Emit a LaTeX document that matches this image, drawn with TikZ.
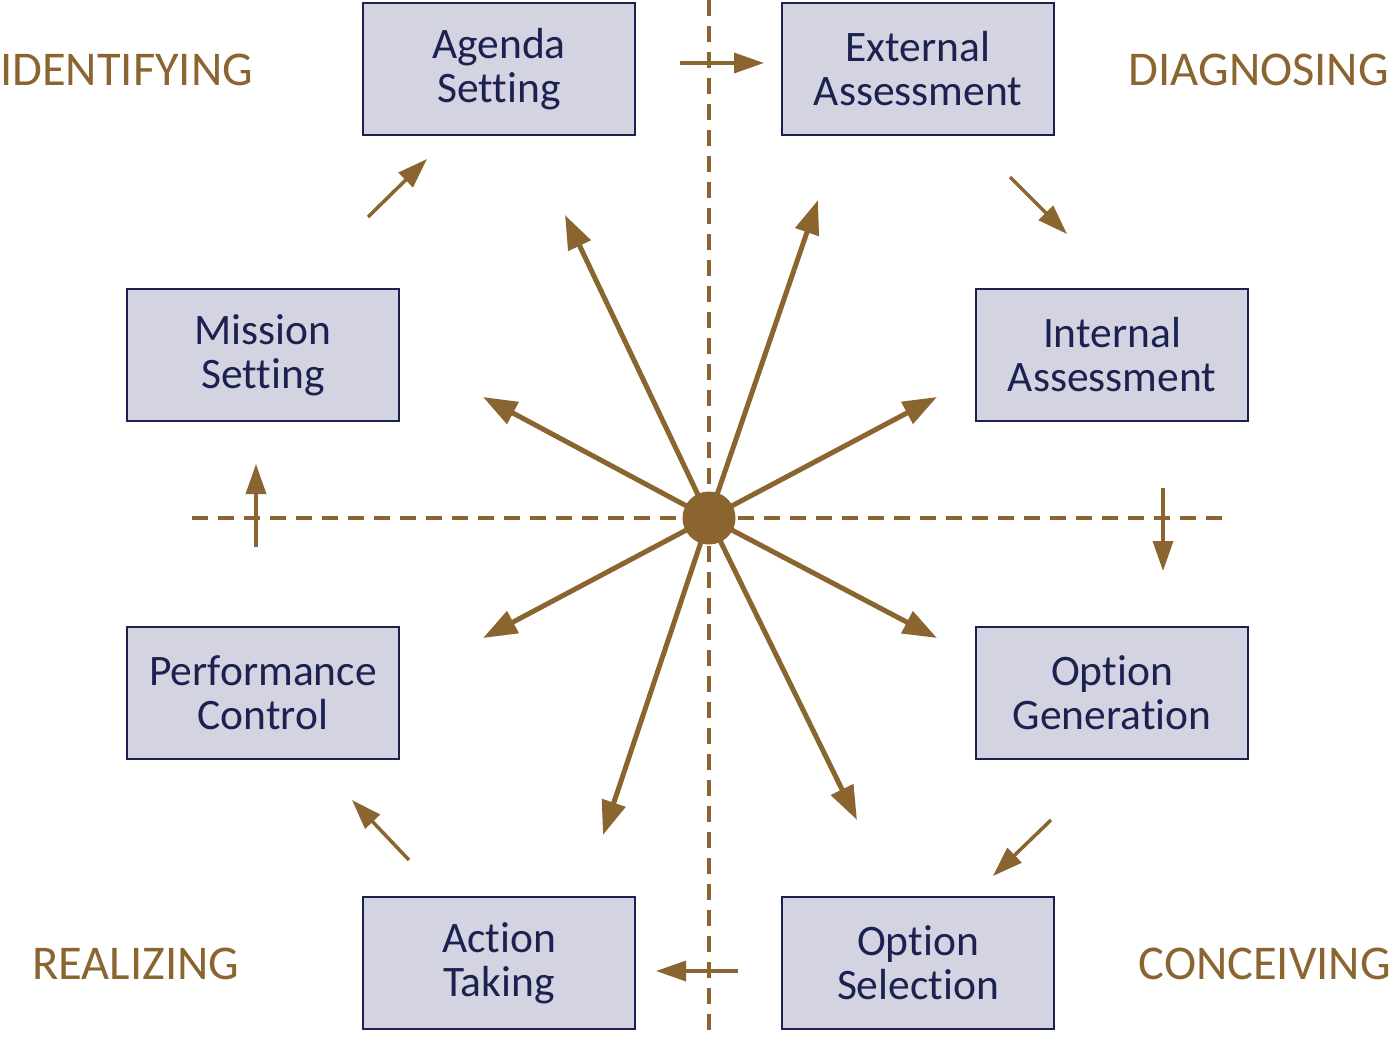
\documentclass[tikz,border=0pt]{standalone}
\usepackage{fontspec}
\setmainfont{Carlito}[Ligatures=NoCommon]
\usetikzlibrary{arrows.meta}

\definecolor{ochre}{RGB}{139,101,48}
\definecolor{navy}{RGB}{27,34,80}
\definecolor{boxfill}{RGB}{211,211,226}

\begin{document}
\begin{tikzpicture}[x=1pt, y=-1pt,
    stage/.style={draw=navy, line width=1.8pt, fill=boxfill, text=navy,
      minimum width=272pt, minimum height=132pt, align=center,
      font=\fontsize{43.5}{44}\selectfont},
    phase/.style={text=ochre, inner sep=0pt, font=\fontsize{48.5}{48}\selectfont},
    axis/.style={ochre, line width=3.5pt, dash pattern=on 16pt off 10pt},
    spoke/.style={ochre, line width=5pt, -{Triangle[length=34pt,width=24pt]}},
    turn/.style={ochre, line width=3.5pt, -{Triangle[length=30pt,width=20pt]}}]
  \useasboundingbox (0,0) rectangle (1393,1037);

  % axes
  \draw[axis] (709,0) -- (709,1037);
  \draw[axis] (192,518) -- (1232,518);

  % stages
  \node[stage] (agenda)   at (499,69)  {Agenda\\Setting};
  \node[stage] (external) at (918,69)  {External\\Assessment};
  \node[stage] (mission)  at (263,355) {Mission\\Setting};
  \node[stage] (internal) at (1112,355) {Internal\\Assessment};
  \node[stage] (perform)  at (263,693) {Performance\\Control};
  \node[stage] (generate) at (1112,693) {Option\\Generation};
  \node[stage] (action)   at (499,963) {Action\\Taking};
  \node[stage] (select)   at (918,963) {Option\\Selection};

  % phases
  \node[phase, anchor=west] (identifying) at (0,70)   {IDENTIFYING};
  \node[phase, anchor=east] (diagnosing)  at (1389,70) {DIAGNOSING};
  \node[phase, anchor=west] (realizing)   at (32,964)  {REALIZING};
  \node[phase, anchor=east] (conceiving)  at (1391,964) {CONCEIVING};

  % hub and spokes
  \node[circle, fill=ochre, minimum size=53pt, inner sep=0pt] (hub) at (709,518) {};
  \coordinate (s1) at (565,215);
  \coordinate (s2) at (818,200);
  \coordinate (s3) at (483,397);
  \coordinate (s4) at (937,397);
  \coordinate (s5) at (483,638);
  \coordinate (s6) at (937,638);
  \coordinate (s7) at (603,835);
  \coordinate (s8) at (857,820);
  \foreach \s in {s1,s2,s3,s4,s5,s6,s7,s8}
    \draw[spoke] (hub.center) -- (\s);

  % cycle arrows
  \coordinate (t1a) at (680,63);   \coordinate (t1b) at (764,63);
  \coordinate (t2a) at (1010,177); \coordinate (t2b) at (1067,234);
  \coordinate (t3a) at (1163,488); \coordinate (t3b) at (1163,571);
  \coordinate (t4a) at (1051,820); \coordinate (t4b) at (993,876);
  \coordinate (t5a) at (738,971);  \coordinate (t5b) at (656,971);
  \coordinate (t6a) at (409,860);  \coordinate (t6b) at (352,800);
  \coordinate (t7a) at (256,547);  \coordinate (t7b) at (256,464);
  \coordinate (t8a) at (368,217);  \coordinate (t8b) at (427,159);
  \foreach \t in {t1,t2,t3,t4,t5,t6,t7,t8}
    \draw[turn] (\t a) -- (\t b);
\end{tikzpicture}
\end{document}
